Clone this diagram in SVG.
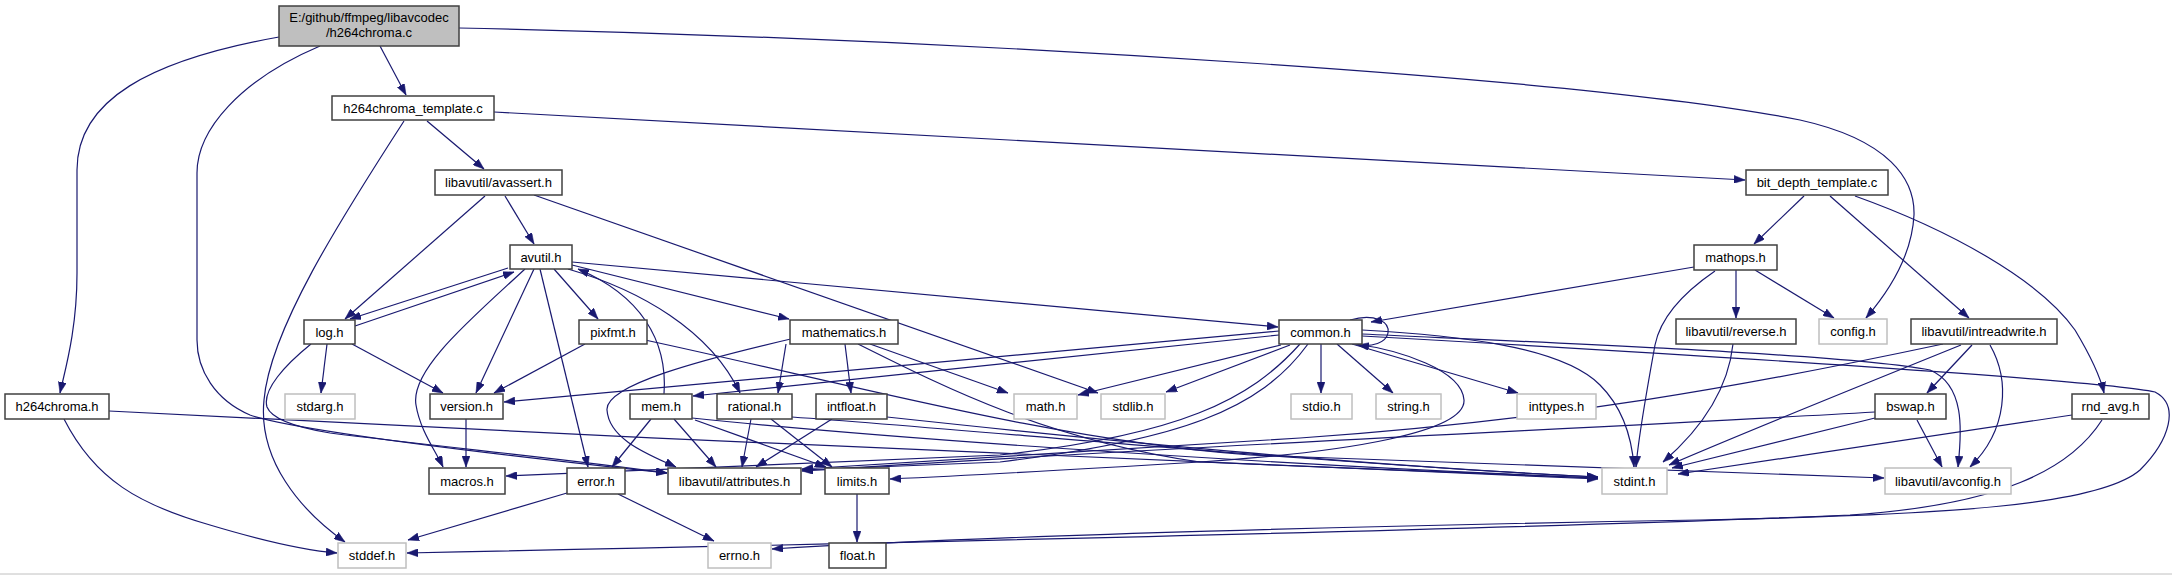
<svg xmlns="http://www.w3.org/2000/svg" width="2172" height="575" viewBox="0 0 2172 575">
<style>
.n rect{fill:#ffffff;stroke:#404040;stroke-width:1.5}
.g rect{fill:#ffffff;stroke:#bfbfbf;stroke-width:1.5}
.r rect{fill:#bfbfbf;stroke:#404040;stroke-width:1.5}
text{font-family:"Liberation Sans",Arial,sans-serif;font-size:13px;fill:#000000;text-anchor:middle}
.e path{fill:none;stroke:#191970;stroke-width:1.2;marker-end:url(#a)}
</style>
<defs>
<marker id="a" markerUnits="userSpaceOnUse" markerWidth="11" markerHeight="8" refX="11" refY="4" orient="auto">
<path d="M0,0 L11,4 L0,8 z" fill="#191970" stroke="#191970" stroke-width="0.5"/>
</marker>
</defs>
<rect x="0" y="0" width="2172" height="575" fill="#ffffff"/>
<line x1="0" y1="574" x2="2172" y2="574" stroke="#c0c0c0" stroke-width="1"/>
<g class="e" id="edges">
<path d="M380,46 L406,95"/>
<path d="M459,28 C1000,40 1600,80 1800,120 C1890,140 1915,180 1914,215 C1912,255 1890,290 1866,318"/>
<path d="M279,37 C150,60 77,100 77,170 L77,273 C77,330 65,370 60,393"/>
<path d="M320,46 C240,80 197,130 197,173 L197,340 C197,370 215,400 250,415 C300,432 500,455 667,473"/>
<path d="M427,121 L484,169"/>
<path d="M404,121 C340,220 270,330 264,400 C258,460 300,510 345,542"/>
<path d="M494,112 L1745,180"/>
<path d="M505,196 L534,244"/>
<path d="M485,196 L345,319"/>
<path d="M534,195 L1098,393"/>
<path d="M508,268 L350,319"/>
<path d="M355,326 L514,272"/>
<path d="M554,269 L598,319"/>
<path d="M572,265 L789,319"/>
<path d="M572,262 L1278,327"/>
<path d="M534,269 L476,393"/>
<path d="M525,269 C470,320 410,370 416,405 C420,430 435,450 443,467"/>
<path d="M540,269 L588,467"/>
<path d="M568,269 C640,290 710,330 740,393"/>
<path d="M327,344 L321,393"/>
<path d="M352,344 L443,393"/>
<path d="M311,344 C285,365 262,390 267,407 C272,420 300,428 330,433 C450,448 560,458 667,473"/>
<path d="M585,344 L494,393"/>
<path d="M645,340 C850,384 1050,440 1250,455 L1884,478"/>
<path d="M870,344 L1008,393"/>
<path d="M795,338 C700,360 605,385 607,410 C609,440 650,455 676,467"/>
<path d="M786,344 L778,393"/>
<path d="M845,344 L851,393"/>
<path d="M858,344 C950,390 1050,440 1200,462 L1598,478"/>
<path d="M664,394 C668,340 640,295 578,269"/>
<path d="M651,419 L612,467"/>
<path d="M674,419 L716,467"/>
<path d="M695,420 L826,467"/>
<path d="M692,418 C900,440 1300,466 1598,478"/>
<path d="M751,419 L742,467"/>
<path d="M771,419 L832,467"/>
<path d="M792,417 C1000,432 1300,462 1598,477"/>
<path d="M832,419 L756,467"/>
<path d="M887,417 C1100,440 1350,465 1598,477"/>
<path d="M109,411 C600,436 1200,465 1598,479"/>
<path d="M64,419 C95,480 140,505 210,525 C260,540 300,550 337,553"/>
<path d="M567,493 L408,540"/>
<path d="M618,494 L714,541"/>
<path d="M857,494 L857,542"/>
<path d="M466,419 L466,467"/>
<path d="M1279,331 L504,402"/>
<path d="M1279,335 L693,396"/>
<path d="M1300,344 C1250,400 1180,435 1000,455 L506,476"/>
<path d="M1308,344 C1260,410 1180,440 1000,462 L802,470"/>
<path d="M1355,344 C1400,350 1462,370 1464,400 C1466,432 1350,452 1200,462 C1100,468 1000,474 890,479"/>
<path d="M1281,345 L1078,395"/>
<path d="M1290,345 L1166,392"/>
<path d="M1321,344 L1321,393"/>
<path d="M1337,344 L1393,393"/>
<path d="M1352,344 L1518,393"/>
<path d="M1362,330 C1450,335 1560,345 1600,385 C1625,410 1632,440 1634,467"/>
<path d="M1362,334 C1600,345 1850,355 1930,370 C1965,385 1962,430 1958,467"/>
<path d="M1362,336 C1700,355 2100,380 2155,392 C2180,405 2170,440 2140,470 C2100,505 1950,515 1700,520 C1400,525 1000,535 772,549"/>
<path d="M1350,320 C1375,313 1390,322 1388,333 C1386,343 1372,347 1358,345"/>
<path d="M1694,267 L1371,322"/>
<path d="M1736,270 L1736,318"/>
<path d="M1755,270 L1834,318"/>
<path d="M1715,271 C1680,295 1660,320 1655,345 C1645,400 1638,440 1636,467"/>
<path d="M1733,344 C1728,390 1700,430 1663,462"/>
<path d="M1804,196 L1754,244"/>
<path d="M1830,196 L1969,318"/>
<path d="M1855,196 C1950,230 2040,280 2075,330 C2090,355 2100,375 2104,393"/>
<path d="M1943,344 C1750,385 1560,420 1300,438 C1100,452 900,463 802,469"/>
<path d="M1961,345 C1850,390 1750,430 1669,465"/>
<path d="M1972,345 L1927,393"/>
<path d="M1990,345 C2010,380 2008,430 1970,467"/>
<path d="M1875,418 L1672,468"/>
<path d="M1875,412 C1600,428 1200,445 802,471"/>
<path d="M1917,420 L1942,467"/>
<path d="M2072,415 L1678,474"/>
<path d="M2102,420 C2070,470 2000,505 1850,515 C1500,530 800,545 407,553"/>
</g>
<g id="root" class="r"><rect x="279" y="6" width="180" height="40"/><text x="369" y="22">E:/github/ffmpeg/libavcodec</text><text x="369" y="37">/h264chroma.c</text></g>
<g id="h264chroma_template" class="n"><rect x="332" y="96" width="162" height="24"/><text x="413" y="112.5">h264chroma_template.c</text></g>
<g id="avassert" class="n"><rect x="435" y="170" width="127" height="25"/><text x="498.5" y="187">libavutil/avassert.h</text></g>
<g id="avutil" class="n"><rect x="510" y="245" width="62" height="24"/><text x="541" y="261.5">avutil.h</text></g>
<g id="log" class="n"><rect x="304" y="320" width="51" height="24"/><text x="329.5" y="336.5">log.h</text></g>
<g id="pixfmt" class="n"><rect x="579" y="320" width="68" height="24"/><text x="613" y="336.5">pixfmt.h</text></g>
<g id="mathematics" class="n"><rect x="790" y="320" width="108" height="24"/><text x="844" y="336.5">mathematics.h</text></g>
<g id="common" class="n"><rect x="1279" y="320" width="83" height="24"/><text x="1320.5" y="336.5">common.h</text></g>
<g id="bit_depth_template" class="n"><rect x="1746" y="170" width="142" height="25"/><text x="1817" y="187">bit_depth_template.c</text></g>
<g id="mathops" class="n"><rect x="1694" y="245" width="83" height="25"/><text x="1735.5" y="262">mathops.h</text></g>
<g id="reverse" class="n"><rect x="1676" y="319" width="120" height="25"/><text x="1736" y="336">libavutil/reverse.h</text></g>
<g id="config" class="g"><rect x="1819" y="319" width="68" height="25"/><text x="1853" y="336">config.h</text></g>
<g id="intreadwrite" class="n"><rect x="1911" y="319" width="146" height="25"/><text x="1984" y="336">libavutil/intreadwrite.h</text></g>
<g id="h264chroma_h" class="n"><rect x="5" y="394" width="104" height="25"/><text x="57" y="411">h264chroma.h</text></g>
<g id="stdarg" class="g"><rect x="285" y="394" width="70" height="25"/><text x="320" y="411">stdarg.h</text></g>
<g id="version" class="n"><rect x="430" y="394" width="73" height="25"/><text x="466.5" y="411">version.h</text></g>
<g id="mem" class="n"><rect x="630" y="394" width="62" height="25"/><text x="661" y="411">mem.h</text></g>
<g id="rational" class="n"><rect x="717" y="394" width="75" height="25"/><text x="754.5" y="411">rational.h</text></g>
<g id="intfloat" class="n"><rect x="816" y="394" width="71" height="25"/><text x="851.5" y="411">intfloat.h</text></g>
<g id="math" class="g"><rect x="1014" y="394" width="63" height="25"/><text x="1045.5" y="411">math.h</text></g>
<g id="stdlib" class="g"><rect x="1101" y="394" width="64" height="25"/><text x="1133" y="411">stdlib.h</text></g>
<g id="stdio" class="g"><rect x="1291" y="394" width="61" height="25"/><text x="1321.5" y="411">stdio.h</text></g>
<g id="string" class="g"><rect x="1376" y="394" width="65" height="25"/><text x="1408.5" y="411">string.h</text></g>
<g id="inttypes" class="g"><rect x="1517" y="394" width="79" height="25"/><text x="1556.5" y="411">inttypes.h</text></g>
<g id="bswap" class="n"><rect x="1875" y="394" width="71" height="25"/><text x="1910.5" y="411">bswap.h</text></g>
<g id="rnd_avg" class="n"><rect x="2072" y="394" width="77" height="25"/><text x="2110.5" y="411">rnd_avg.h</text></g>
<g id="macros" class="n"><rect x="429" y="468" width="76" height="26"/><text x="467" y="485.5">macros.h</text></g>
<g id="error" class="n"><rect x="567" y="468" width="58" height="26"/><text x="596" y="485.5">error.h</text></g>
<g id="attributes" class="n"><rect x="668" y="468" width="133" height="26"/><text x="734.5" y="485.5">libavutil/attributes.h</text></g>
<g id="limits" class="n"><rect x="825" y="468" width="64" height="26"/><text x="857" y="485.5">limits.h</text></g>
<g id="stdint" class="g"><rect x="1602" y="468" width="65" height="26"/><text x="1634.5" y="485.5">stdint.h</text></g>
<g id="avconfig" class="g"><rect x="1885" y="468" width="126" height="26"/><text x="1948" y="485.5">libavutil/avconfig.h</text></g>
<g id="stddef" class="g"><rect x="338" y="543" width="68" height="25"/><text x="372" y="560">stddef.h</text></g>
<g id="errno" class="g"><rect x="708" y="543" width="63" height="25"/><text x="739.5" y="560">errno.h</text></g>
<g id="float" class="n"><rect x="829" y="543" width="57" height="25"/><text x="857.5" y="560">float.h</text></g>
</svg>
